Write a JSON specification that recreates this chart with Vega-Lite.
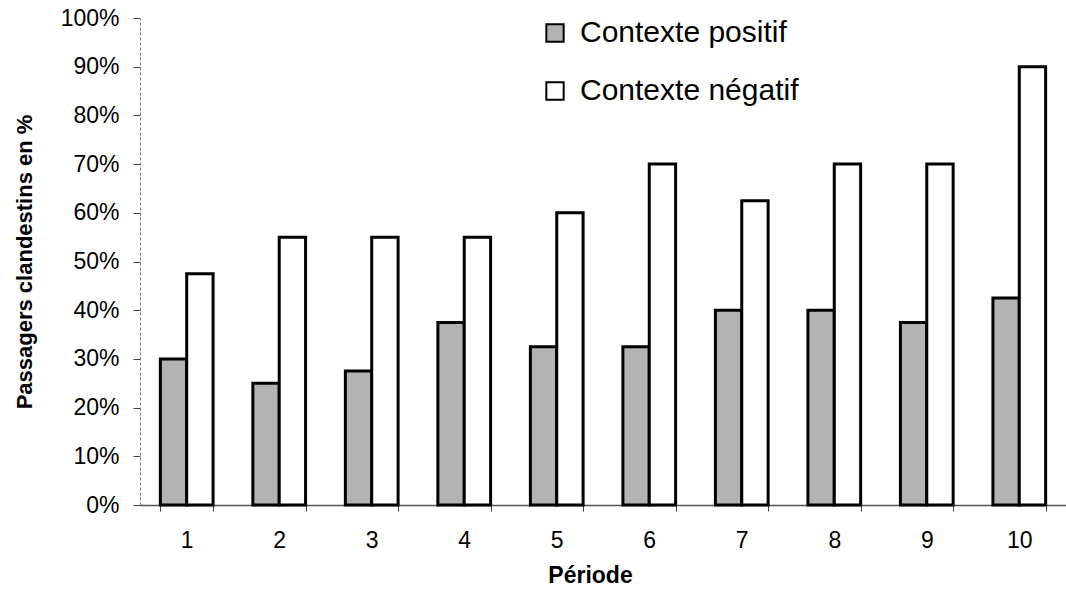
{
  "$schema": "https://vega.github.io/schema/vega-lite/v6.json",
  "width": 926,
  "height": 487,
  "autosize": {"type": "none"},
  "padding": {"left": 140, "top": 18, "right": 0, "bottom": 90},
  "background": "white",
  "config": {
    "font": "Liberation Sans",
    "view": {"stroke": null}
  },
  "data": {
    "values": [
      {"periode": 1, "contexte": "Contexte positif", "valeur": 0.30},
      {"periode": 1, "contexte": "Contexte négatif", "valeur": 0.475},
      {"periode": 2, "contexte": "Contexte positif", "valeur": 0.25},
      {"periode": 2, "contexte": "Contexte négatif", "valeur": 0.55},
      {"periode": 3, "contexte": "Contexte positif", "valeur": 0.275},
      {"periode": 3, "contexte": "Contexte négatif", "valeur": 0.55},
      {"periode": 4, "contexte": "Contexte positif", "valeur": 0.375},
      {"periode": 4, "contexte": "Contexte négatif", "valeur": 0.55},
      {"periode": 5, "contexte": "Contexte positif", "valeur": 0.325},
      {"periode": 5, "contexte": "Contexte négatif", "valeur": 0.60},
      {"periode": 6, "contexte": "Contexte positif", "valeur": 0.325},
      {"periode": 6, "contexte": "Contexte négatif", "valeur": 0.70},
      {"periode": 7, "contexte": "Contexte positif", "valeur": 0.40},
      {"periode": 7, "contexte": "Contexte négatif", "valeur": 0.625},
      {"periode": 8, "contexte": "Contexte positif", "valeur": 0.40},
      {"periode": 8, "contexte": "Contexte négatif", "valeur": 0.70},
      {"periode": 9, "contexte": "Contexte positif", "valeur": 0.375},
      {"periode": 9, "contexte": "Contexte négatif", "valeur": 0.70},
      {"periode": 10, "contexte": "Contexte positif", "valeur": 0.425},
      {"periode": 10, "contexte": "Contexte négatif", "valeur": 0.90}
    ]
  },
  "mark": {"type": "bar", "stroke": "black", "strokeWidth": 3},
  "encoding": {
    "x": {
      "field": "periode",
      "type": "ordinal",
      "scale": {"paddingInner": 0.43, "paddingOuter": 0.22},
      "axis": {
        "title": "Période",
        "titleFont": "Liberation Sans",
        "titleFontSize": 23,
        "titleFontWeight": "bold",
        "titleColor": "black",
        "titlePadding": 12,
        "titleX": 450,
        "labelAngle": 0,
        "labelFontSize": 23,
        "labelColor": "black",
        "labelPadding": 18,
        "tickBand": "extent",
        "tickSize": 6,
        "tickColor": "#444",
        "domainColor": "#555",
        "domainWidth": 1.5,
        "grid": false
      }
    },
    "xOffset": {
      "field": "contexte",
      "type": "nominal",
      "sort": ["Contexte positif", "Contexte négatif"],
      "scale": {"paddingInner": 0, "paddingOuter": 0}
    },
    "y": {
      "field": "valeur",
      "type": "quantitative",
      "scale": {"domain": [0, 1], "nice": false},
      "axis": {
        "title": "Passagers clandestins en %",
        "titleFont": "Liberation Sans",
        "titleFontSize": 22,
        "titleFontWeight": "bold",
        "titleColor": "black",
        "titlePadding": 24,
        "format": ".0%",
        "values": [0, 0.1, 0.2, 0.3, 0.4, 0.5, 0.6, 0.7, 0.8, 0.9, 1],
        "labelFontSize": 23,
        "labelColor": "black",
        "labelPadding": 14,
        "tickSize": 7,
        "tickColor": "#444",
        "domainColor": "#777",
        "domainWidth": 1,
        "domainDash": [3, 2],
        "grid": false
      }
    },
    "fill": {
      "field": "contexte",
      "type": "nominal",
      "sort": ["Contexte positif", "Contexte négatif"],
      "scale": {
        "domain": ["Contexte positif", "Contexte négatif"],
        "range": ["#b3b3b3", "#ffffff"]
      },
      "legend": {
        "title": null,
        "orient": "none",
        "legendX": 400,
        "legendY": 0,
        "symbolType": "square",
        "symbolSize": 300,
        "symbolStrokeColor": "black",
        "symbolStrokeWidth": 2,
        "labelFontSize": 30,
        "labelFont": "Liberation Sans",
        "labelColor": "black",
        "labelOffset": 10,
        "rowPadding": 28,
        "labelLimit": 400
      }
    }
  }
}
